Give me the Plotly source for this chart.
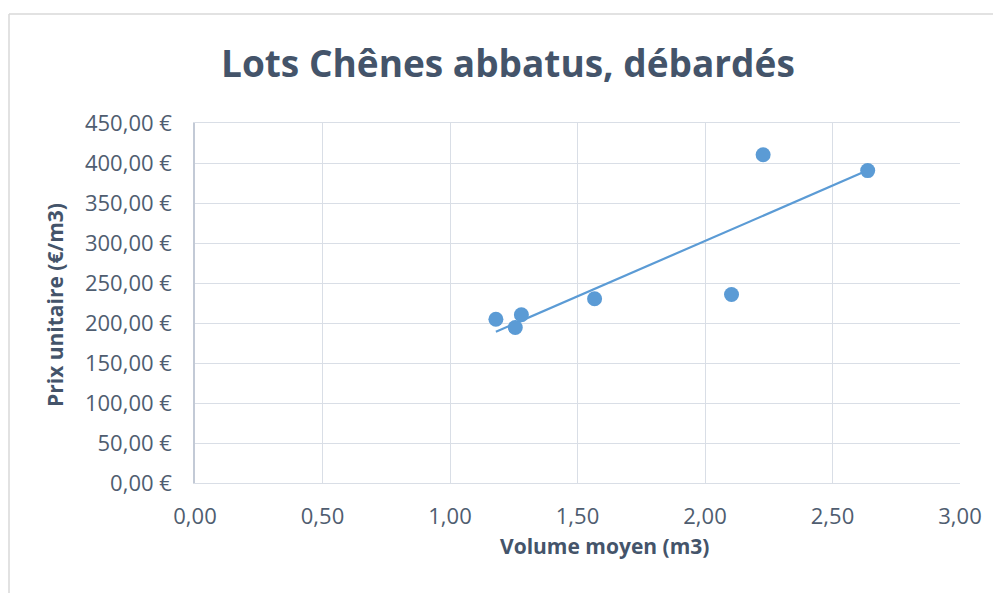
import numpy as np
import plotly.graph_objects as go

# Data
volume_moyen = [1.18, 1.256, 1.28, 1.567, 2.104, 2.228, 2.638]
prix_unitaire = [204.6, 194.3, 210.4, 230.3, 235.7, 410.4, 390.5]

x_tick_vals = [0, 0.5, 1.0, 1.5, 2.0, 2.5, 3.0]
x_tick_text = ["0,00", "0,50", "1,00", "1,50", "2,00", "2,50", "3,00"]
y_tick_vals = [0, 50, 100, 150, 200, 250, 300, 350, 400, 450]
y_tick_text = ["0,00 €", "50,00 €", "100,00 €", "150,00 €", "200,00 €",
               "250,00 €", "300,00 €", "350,00 €", "400,00 €", "450,00 €"]

title_text = "Lots Chênes abbatus, débardés"
x_title = "Volume moyen (m3)"
y_title = "Prix unitaire (€/m3)"

# Linear trendline (least squares), drawn from min x to max x
slope, intercept = np.polyfit(volume_moyen, prix_unitaire, 1)
trend_x = [min(volume_moyen), max(volume_moyen)]
trend_y = [slope * v + intercept for v in trend_x]

BLUE = "#5B9BD5"
TEXT = "#44546A"
TICK = "#4F5D70"
GRID = "#D9DEE6"
FONT = "Open Sans"

# The page body has an 8px default margin; size the figure so that the
# screenshot (1001x593) lines up with the reference.
OFF = 8
PAGE_W, PAGE_H = 1001, 593
W, H = PAGE_W - OFF, PAGE_H - OFF
# plot area in page pixels: x 195..960, y 123..483
ML, MR, MT, MB = 195 - OFF, PAGE_W - 960, 123 - OFF, PAGE_H - 483
PW, PH = W - ML - MR, H - MT - MB


def px_x(p):  # page pixel -> paper x
    return (p - OFF - ML) / PW


def px_y(p):  # page pixel -> paper y
    return (H - MB - (p - OFF)) / PH


fig = go.Figure()
fig.add_trace(go.Scatter(
    x=trend_x, y=trend_y, mode="lines",
    line=dict(color=BLUE, width=2.2), hoverinfo="skip", showlegend=False))
fig.add_trace(go.Scatter(
    x=volume_moyen, y=prix_unitaire, mode="markers",
    marker=dict(color=BLUE, size=15, line=dict(width=0)), showlegend=False))

fig.update_layout(
    width=W, height=H,
    margin=dict(l=ML, r=MR, t=MT, b=MB),
    paper_bgcolor="white", plot_bgcolor="white",
    font=dict(family=FONT, color=TICK),
    showlegend=False,
    xaxis=dict(
        range=[0, 3], tickvals=x_tick_vals, ticktext=x_tick_text,
        showgrid=True, gridcolor=GRID, gridwidth=1,
        showline=True, linecolor=GRID, linewidth=1, mirror=True,
        zeroline=False, ticks="", ticklabelstandoff=14,
        tickfont=dict(family=FONT, size=22, color=TICK),
        fixedrange=True,
    ),
    yaxis=dict(
        range=[0, 450], tickvals=y_tick_vals, ticktext=y_tick_text,
        showgrid=True, gridcolor=GRID, gridwidth=1,
        showline=True, linecolor="#C3CAD6", linewidth=1.5, mirror=False,
        zeroline=False, ticks="", ticklabelstandoff=17,
        tickfont=dict(family=FONT, size=22, color=TICK),
        fixedrange=True,
    ),
    annotations=[
        dict(text=title_text, xref="paper", yref="paper",
             x=px_x(508), y=px_y(63), xanchor="center", yanchor="middle",
             showarrow=False,
             font=dict(family=FONT, size=37, color=TEXT, weight="bold")),
        dict(text=x_title, xref="paper", yref="paper",
             x=px_x(604), y=px_y(546), xanchor="center", yanchor="middle",
             showarrow=False,
             font=dict(family=FONT, size=21, color=TEXT, weight="bold")),
        dict(text=y_title, xref="paper", yref="paper",
             x=px_x(55), y=px_y(305), xanchor="center", yanchor="middle",
             textangle=-90, showarrow=False,
             font=dict(family=FONT, size=21, color=TEXT, weight="bold")),
    ],
    shapes=[
        dict(type="line", xref="paper", yref="paper",
             x0=px_x(OFF + 1), x1=px_x(PAGE_W + 5), y0=px_y(14), y1=px_y(14),
             line=dict(color="#D9D9D9", width=1.5)),
        dict(type="line", xref="paper", yref="paper",
             x0=px_x(OFF + 1), x1=px_x(OFF + 1), y0=px_y(14), y1=px_y(PAGE_H + 5),
             line=dict(color="#D9D9D9", width=1.5)),
    ],
)

fig.write_html("out.html")
